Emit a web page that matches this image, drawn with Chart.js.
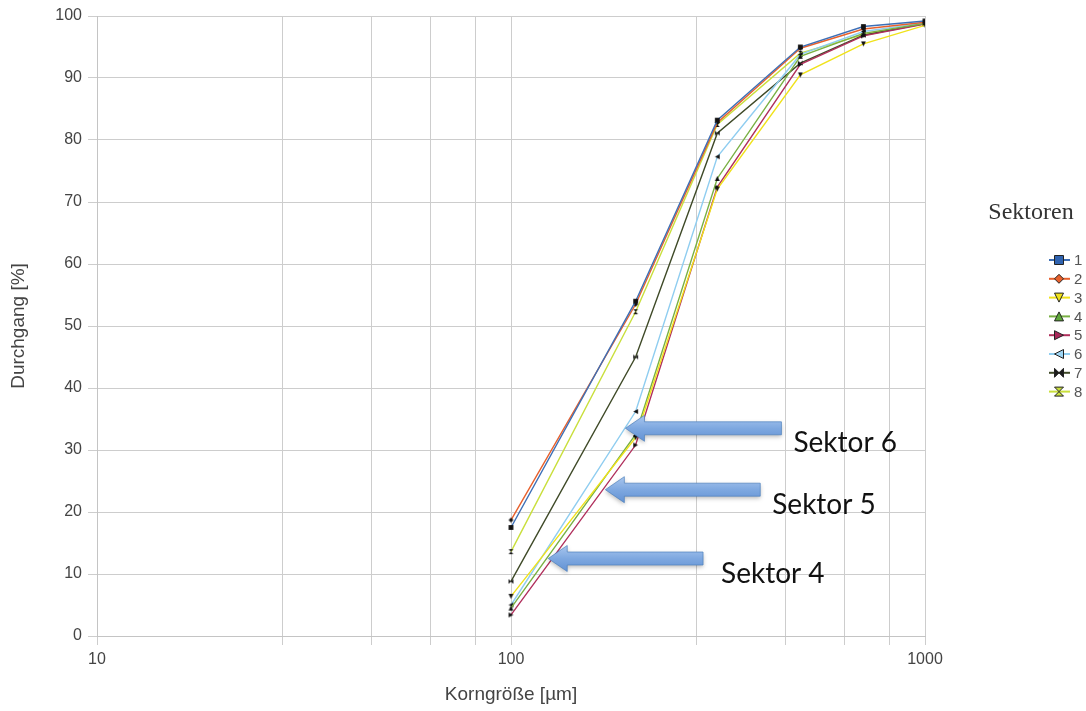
<!DOCTYPE html>
<html>
<head>
<meta charset="utf-8">
<script src="https://cdn.jsdelivr.net/npm/chart.js@4/dist/chart.umd.min.js"></script>
<style>
  html, body { margin: 0; padding: 0; background: #ffffff; }
  #c { display: block; }
</style>
</head>
<body>
<canvas id="c" width="1086" height="711"></canvas>
<script>
// Sieve sizes (µm) and cumulative passing (%) per sector
const grainSizes = [100, 200, 315, 500, 710, 1000];
const sectorNames = ['1', '2', '3', '4', '5', '6', '7', '8'];
const sector1 = [17.5, 54.0, 83.2, 95.0, 98.3, 99.2];
const sector2 = [18.7, 53.5, 82.8, 94.8, 97.9, 99.0];
const sector3 = [6.4, 32.0, 72.1, 90.5, 95.5, 98.5];
const sector4 = [4.5, 32.5, 73.8, 93.5, 97.2, 98.8];
const sector5 = [3.4, 30.8, 72.4, 92.2, 96.8, 98.7];
const sector6 = [5.0, 36.2, 77.3, 93.8, 97.5, 98.9];
const sector7 = [8.8, 45.0, 81.1, 92.4, 96.9, 98.8];
const sector8 = [13.6, 52.3, 82.5, 94.0, 97.0, 98.9];

// Axis ticks
const xGridValues = [10, 28, 46, 64, 82, 100, 280, 460, 640, 820, 1000];
const xLabelValues = [10, 100, 1000];
const yTickValues = [0, 10, 20, 30, 40, 50, 60, 70, 80, 90, 100];

// Callout arrows (data units): text, arrow tip x, arrow tail x, y
const calloutTexts = ['Sektor 6', 'Sektor 5', 'Sektor 4'];
const calloutTipX = [189, 169, 123];
const calloutTailX = [450, 400, 291];
const calloutY = [33.5, 23.6, 12.5];
const calloutTextGap = [12, 12, 18];

const sectorValues = [sector1, sector2, sector3, sector4, sector5, sector6, sector7, sector8];
const sectorColors = ['#3d6fb6', '#e8602c', '#f0e21a', '#79b043', '#b02f5c', '#8fcdf0', '#3f4a28', '#c9df3c'];
const sectorShapes = ['square', 'diamond', 'triDown', 'triUp', 'triRight', 'triLeft', 'bowtie', 'hourglass'];
const legendFills = ['#2f63b0', '#e8602c', '#f0e21a', '#5ea83a', '#a8285a', '#9fd6f5', '#1c1c1c', '#c9df3c'];

function markerPath(ctx, shape, cx, cy, r) {
  ctx.beginPath();
  switch (shape) {
    case 'square':
      ctx.rect(cx - r, cy - r, 2 * r, 2 * r); break;
    case 'diamond':
      ctx.moveTo(cx, cy - r); ctx.lineTo(cx + r, cy); ctx.lineTo(cx, cy + r); ctx.lineTo(cx - r, cy); ctx.closePath(); break;
    case 'triDown':
      ctx.moveTo(cx - r, cy - r); ctx.lineTo(cx + r, cy - r); ctx.lineTo(cx, cy + r); ctx.closePath(); break;
    case 'triUp':
      ctx.moveTo(cx, cy - r); ctx.lineTo(cx + r, cy + r); ctx.lineTo(cx - r, cy + r); ctx.closePath(); break;
    case 'triRight':
      ctx.moveTo(cx - r, cy - r); ctx.lineTo(cx + r, cy); ctx.lineTo(cx - r, cy + r); ctx.closePath(); break;
    case 'triLeft':
      ctx.moveTo(cx + r, cy - r); ctx.lineTo(cx - r, cy); ctx.lineTo(cx + r, cy + r); ctx.closePath(); break;
    case 'bowtie':
      ctx.moveTo(cx - r, cy - r); ctx.lineTo(cx, cy); ctx.lineTo(cx - r, cy + r); ctx.closePath();
      ctx.moveTo(cx + r, cy - r); ctx.lineTo(cx, cy); ctx.lineTo(cx + r, cy + r); ctx.closePath(); break;
    case 'hourglass':
      ctx.moveTo(cx - r, cy - r); ctx.lineTo(cx + r, cy - r); ctx.lineTo(cx, cy); ctx.closePath();
      ctx.moveTo(cx - r, cy + r); ctx.lineTo(cx + r, cy + r); ctx.lineTo(cx, cy); ctx.closePath(); break;
  }
}

// Small black point images used on the curves
function pointImage(shape) {
  const s = 7;
  const cv = document.createElement('canvas');
  cv.width = s; cv.height = s;
  const g = cv.getContext('2d');
  g.fillStyle = '#111';
  markerPath(g, shape, s / 2, s / 2, 2.4);
  g.fill();
  return cv;
}

const datasets = sectorNames.map((name, i) => ({
  label: name,
  data: grainSizes.map((x, j) => ({ x: x, y: sectorValues[i][j] })),
  borderColor: sectorColors[i],
  backgroundColor: sectorColors[i],
  borderWidth: 1.4,
  pointStyle: pointImage(sectorShapes[i]),
  pointRadius: 3,
  tension: 0,
  fill: false
}));

const sideLegend = {
  id: 'sideLegend',
  afterDraw(chart) {
    const ctx = chart.ctx;
    ctx.save();
    ctx.fillStyle = '#333';
    ctx.font = '24px "Liberation Serif", "DejaVu Serif", serif';
    ctx.textAlign = 'center';
    ctx.textBaseline = 'middle';
    ctx.fillText('Sektoren', 1031, 213);
    chart.data.datasets.forEach((ds, i) => {
      const y = 260 + i * 18.8;
      ctx.strokeStyle = ds.borderColor;
      ctx.lineWidth = 2;
      ctx.beginPath(); ctx.moveTo(1049, y); ctx.lineTo(1070, y); ctx.stroke();
      ctx.fillStyle = legendFills[i];
      ctx.strokeStyle = '#222';
      ctx.lineWidth = 1;
      markerPath(ctx, sectorShapes[i], 1059, y, 4.5);
      ctx.fill(); ctx.stroke();
      ctx.fillStyle = '#555';
      ctx.font = '15px "Liberation Sans", Arial, sans-serif';
      ctx.textAlign = 'left';
      ctx.fillText(ds.label, 1074, y + 1);
    });
    ctx.restore();
  }
};

const callouts = {
  id: 'callouts',
  afterDraw(chart) {
    const ctx = chart.ctx;
    const xs = chart.scales.x, ys = chart.scales.y;
    ctx.save();
    calloutTexts.forEach((txt, i) => {
      const tip = xs.getPixelForValue(calloutTipX[i]);
      const tail = xs.getPixelForValue(calloutTailX[i]);
      const y = ys.getPixelForValue(calloutY[i]);
      const headLen = 19, headH = 13, shaftH = 6.5;
      ctx.save();
      ctx.shadowColor = 'rgba(0,0,0,0.28)';
      ctx.shadowBlur = 4;
      ctx.shadowOffsetY = 2;
      const grad = ctx.createLinearGradient(0, y - headH, 0, y + headH);
      grad.addColorStop(0, '#a9c6ee');
      grad.addColorStop(0.5, '#7ea8e0');
      grad.addColorStop(1, '#6392d4');
      ctx.fillStyle = grad;
      ctx.beginPath();
      ctx.moveTo(tip, y);
      ctx.lineTo(tip + headLen, y - headH);
      ctx.lineTo(tip + headLen, y - shaftH);
      ctx.lineTo(tail, y - shaftH);
      ctx.lineTo(tail, y + shaftH);
      ctx.lineTo(tip + headLen, y + shaftH);
      ctx.lineTo(tip + headLen, y + headH);
      ctx.closePath();
      ctx.fill();
      ctx.restore();
      ctx.strokeStyle = 'rgba(79,129,189,0.7)';
      ctx.lineWidth = 1;
      ctx.stroke();
      ctx.fillStyle = '#111';
      ctx.font = '28px Lato, "Open Sans", sans-serif';
      ctx.textAlign = 'left';
      ctx.textBaseline = 'alphabetic';
      ctx.fillText(txt, tail + calloutTextGap[i], y + 24);
    });
    ctx.restore();
  }
};

new Chart(document.getElementById('c'), {
  type: 'line',
  data: { datasets: datasets },
  options: {
    responsive: false,
    animation: false,
    layout: { padding: { top: 16, right: 161, bottom: 0, left: 0 } },
    plugins: {
      legend: { display: false },
      tooltip: { enabled: false }
    },
    scales: {
      x: {
        type: 'logarithmic',
        min: 10,
        max: 1000,
        afterBuildTicks(scale) { scale.ticks = xGridValues.map(v => ({ value: v })); },
        afterFit(scale) { scale.height = 75; },
        ticks: {
          autoSkip: false,
          maxRotation: 0,
          padding: 5,
          color: '#444',
          font: { family: '"Liberation Sans", Arial, sans-serif', size: 16 },
          callback: (v) => xLabelValues.includes(v) ? String(v) : ''
        },
        grid: { color: '#cdcdcd', lineWidth: 1, tickLength: 9 },
        border: { color: '#c4c4c4' },
        title: {
          display: true,
          text: 'Korngröße [µm]',
          color: '#444',
          font: { family: '"Liberation Sans", Arial, sans-serif', size: 19 },
          padding: { top: 0, bottom: 5 }
        }
      },
      y: {
        min: 0,
        max: 100,
        afterBuildTicks(scale) { scale.ticks = yTickValues.map(v => ({ value: v })); },
        afterFit(scale) { scale.width = 97; },
        ticks: {
          padding: 6,
          color: '#444',
          font: { family: '"Liberation Sans", Arial, sans-serif', size: 16 }
        },
        grid: { color: '#cdcdcd', lineWidth: 1, tickLength: 9 },
        border: { color: '#c4c4c4' },
        title: {
          display: true,
          text: 'Durchgang [%]',
          color: '#444',
          font: { family: '"Liberation Sans", Arial, sans-serif', size: 19 },
          padding: { top: 7, bottom: 0 }
        }
      }
    }
  },
  plugins: [callouts, sideLegend]
});
</script>
</body>
</html>
